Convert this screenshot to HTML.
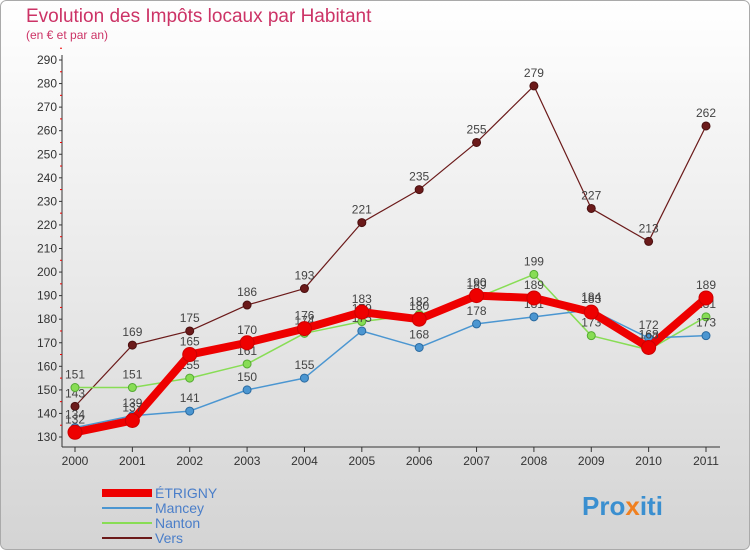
<!DOCTYPE html>
<html><head><meta charset="utf-8"><style>
body{margin:0;width:750px;height:550px;overflow:hidden;font-family:"Liberation Sans",sans-serif}
</style></head><body>
<svg width="750" height="550" xmlns="http://www.w3.org/2000/svg">
<defs>
<linearGradient id="bg" x1="0" y1="0" x2="0" y2="1"><stop offset="0" stop-color="#ffffff"/><stop offset="1" stop-color="#d4d4d4"/></linearGradient>
</defs>
<rect x="0.5" y="0.5" width="749" height="549" rx="6" fill="url(#bg)" stroke="#aaa"/>
<text x="26" y="22" font-size="19" fill="#cc3366">Evolution des Impôts locaux par Habitant</text>
<text x="26" y="39" font-size="12" fill="#cc3366">(en € et par an)</text>
<g id="axes"></g>
<g id="series"></g>
<g font-size="14" fill="#4a7ec9">
<line x1="102" y1="493" x2="152" y2="493" stroke="#ee0000" stroke-width="8"/>
<text x="155" y="498">ÉTRIGNY</text>
<line x1="102" y1="508" x2="152" y2="508" stroke="#4b96d1" stroke-width="2"/>
<text x="155" y="513">Mancey</text>
<line x1="102" y1="523" x2="152" y2="523" stroke="#88dd55" stroke-width="2"/>
<text x="155" y="528">Nanton</text>
<line x1="102" y1="538" x2="152" y2="538" stroke="#6b1a1a" stroke-width="2"/>
<text x="155" y="543">Vers</text>
</g>
<text x="582" y="515" font-size="26" font-weight="bold" fill="#3a8fd0">Pro<tspan fill="#f08020">x</tspan>iti</text>
</svg>
<script>
const years=["2000","2001","2002","2003","2004","2005","2006","2007","2008","2009","2010","2011"];
const yTicks=[130,140,150,160,170,180,190,200,210,220,230,240,250,260,270,280,290];
const etrigny=[132,137,165,170,176,183,180,190,189,183,168,189];
const mancey=[134,139,141,150,155,175,168,178,181,184,172,173];
const nanton=[151,151,155,161,174,179,182,189,199,173,167,181];
const vers=[143,169,175,186,193,221,235,255,279,227,213,262];
const NS="http://www.w3.org/2000/svg";
const X=i=>75+i*(706-75)/11;
const Y=v=>437-(v-130)*(437-60)/160;
function mk(tag,attrs,parent){const e=document.createElementNS(NS,tag);for(const k in attrs)e.setAttribute(k,attrs[k]);parent.appendChild(e);return e;}
const ax=document.getElementById('axes');
let l=mk('line',{x1:62,y1:55,x2:62,y2:447,stroke:'#333'},ax);


l=mk('line',{x1:62,y1:447,x2:720,y2:447,stroke:'#333'},ax);


yTicks.forEach(v=>{
 const t=mk('text',{x:57,y:Y(v)+4,'font-size':12,'text-anchor':'end',fill:'#333'},ax);t.textContent=v;
 
 
 mk('line',{x1:59,y1:Y(v),x2:62,y2:Y(v),stroke:'#333'},ax);
 mk('line',{x1:60,y1:Y(v+5),x2:62,y2:Y(v+5),stroke:'#e00'},ax);
});
years.forEach((y,i)=>{
 const t=mk('text',{x:X(i),y:465,'font-size':12,'text-anchor':'middle',fill:'#333'},ax);t.textContent=y;
 
 
 mk('line',{x1:X(i),y1:447,x2:X(i),y2:452,stroke:'#333'},ax);
});
const sg=document.getElementById('series');
function draw(name,data,color,w,r,stroke){
 const g=mk('g',{},sg);
 
 
 const p=mk('polyline',{points:data.map((v,i)=>X(i)+','+Y(v)).join(' '),fill:'none',stroke:color,'stroke-width':w,'stroke-linejoin':'round'},g);
 
 
 data.forEach((v,i)=>{
  const c=mk('circle',{cx:X(i),cy:Y(v),r:r,fill:color,stroke:stroke,'stroke-width':1},g);
  
  
  const t=mk('text',{x:X(i),y:Y(v)-9,'font-size':12,'text-anchor':'middle',fill:'#444'},g);t.textContent=v;
  
  
 });
}
draw('vers',vers,'#6b1a1a',1.2,4,'#4a1010');
draw('nanton',nanton,'#88dd55',1.5,4,'#55aa33');
draw('mancey',mancey,'#4b96d1',1.5,4,'#2a6aa0');
draw('etrigny',etrigny,'#ee0000',8,7,'#cc0000');
</script>
</body></html>
